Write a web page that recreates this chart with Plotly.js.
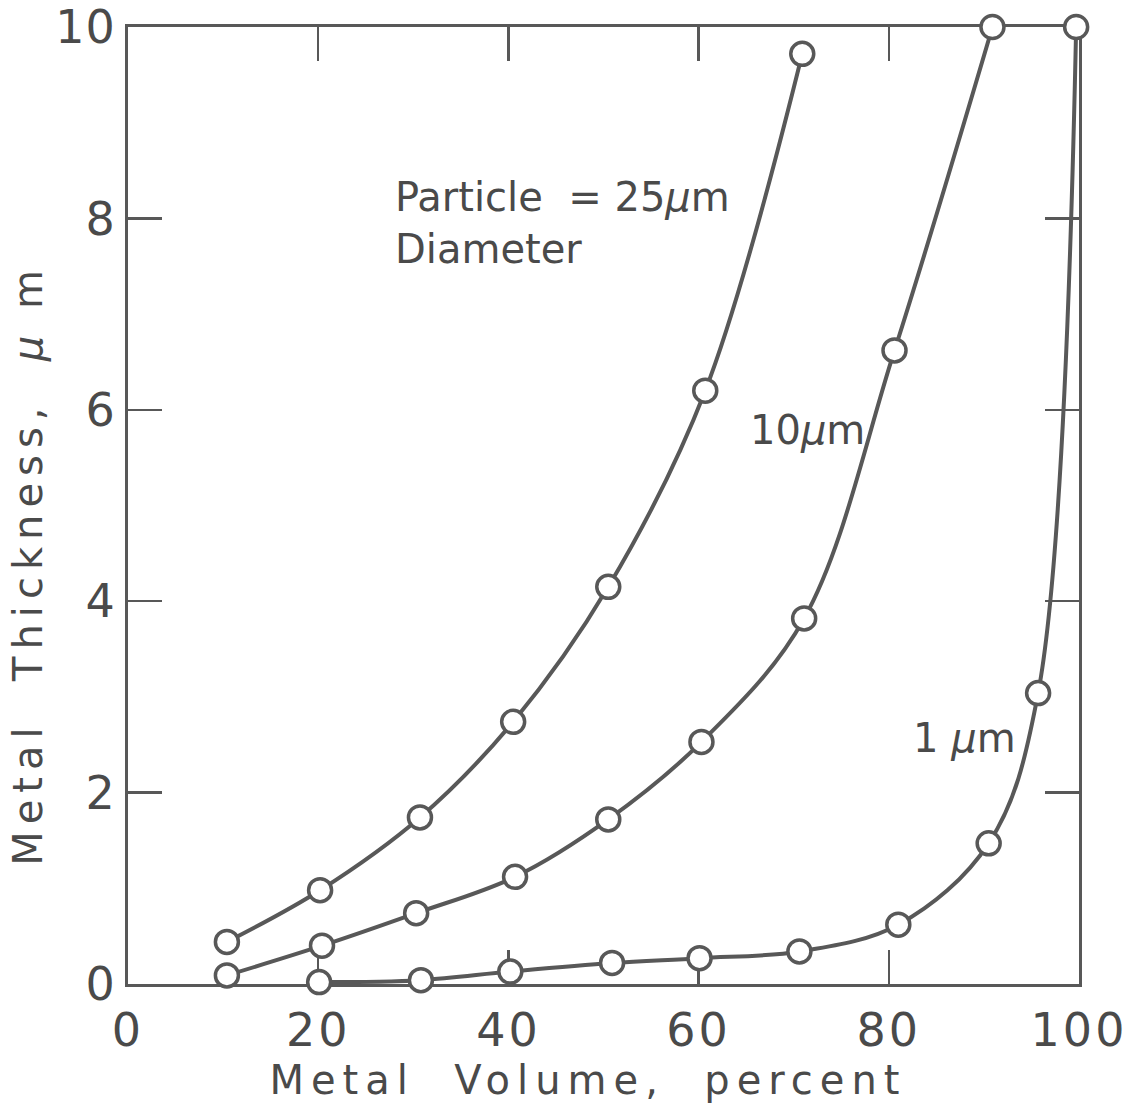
<!DOCTYPE html>
<html>
<head>
<meta charset="utf-8">
<script src="https://cdn.plot.ly/plotly-3.0.1.min.js"></script>
<style>
  html, body { margin: 0; padding: 0; background: #ffffff; }
  #chart { width: 1137px; height: 1108px; }
  .xtick text { letter-spacing: 3px; }
  .ytick text { letter-spacing: 1px; }
  g.annotation[data-index="0"] text { letter-spacing: 7px; }
  g.annotation[data-index="1"] text { letter-spacing: 7px; }
</style>
</head>
<body>
<div id="chart"></div>
<script>
// Metal volume (percent) and metal thickness (µm) for three particle diameters
const volume25 = [10.4, 20.2, 30.7, 40.5, 50.5, 60.7, 70.9];
const thick25  = [0.44, 0.98, 1.74, 2.74, 4.15, 6.2, 9.72];

const volume10 = [10.4, 20.4, 30.3, 40.7, 50.5, 60.3, 71.1, 80.6, 90.9];
const thick10  = [0.09, 0.40, 0.74, 1.12, 1.72, 2.53, 3.82, 6.62, 10.0];

const volume1 = [20.1, 30.8, 40.2, 50.9, 60.1, 70.6, 81.0, 90.5, 95.7, 99.7];
const thick1  = [0.02, 0.04, 0.13, 0.22, 0.27, 0.34, 0.62, 1.47, 3.04, 10.0];

const xTickVals = [0, 20, 40, 60, 80, 100];
const yTickVals = [0, 2, 4, 6, 8, 10];

const xTitle = 'Metal\u00a0 Volume,\u00a0 percent';
const yTitle = 'Metal\u00a0 Thickness,\u00a0 <i>\u03bc</i> m';
const label25 = 'Particle\u00a0 =\u00a025<i>\u03bc</i>m<br>Diameter';
const label10 = '10<i>\u03bc</i>m';
const label1 = '1\u00a0<i>\u03bc</i>m';

const INK = '#585858';
const TEXT = '#4a4a4a';
const FONT = 'DejaVu Sans, sans-serif';

function curve(x, y) {
  return {
    x: x, y: y,
    type: 'scatter',
    mode: 'lines+markers',
    cliponaxis: false,
    line: { color: INK, width: 4, shape: 'spline', smoothing: 1 },
    marker: { symbol: 'circle', size: 23, color: '#ffffff', line: { color: INK, width: 3.5 } },
    hoverinfo: 'skip'
  };
}

const data = [curve(volume1, thick1), curve(volume10, thick10), curve(volume25, thick25)];

const axisCommon = {
  showgrid: false,
  zeroline: false,
  showline: true,
  linecolor: INK,
  linewidth: 3,
  mirror: 'ticks',
  ticks: 'inside',
  ticklen: 34,
  tickwidth: 2.5,
  tickcolor: INK,
  layer: 'below traces',
  tickfont: { family: FONT, size: 46, color: TEXT }
};

const layout = {
  width: 1137,
  height: 1108,
  margin: { l: 128, r: 58, t: 27, b: 124, pad: 0 },
  paper_bgcolor: '#ffffff',
  plot_bgcolor: '#ffffff',
  showlegend: false,
  xaxis: Object.assign({}, axisCommon, {
    range: [0, 100],
    tickvals: xTickVals,
    ticktext: xTickVals.map(String),
    ticklabelstandoff: 4
  }),
  yaxis: Object.assign({}, axisCommon, {
    range: [0, 10],
    tickvals: yTickVals,
    ticktext: yTickVals.map(String),
    ticklabelstandoff: 0
  }),
  annotations: [
    { text: xTitle, xref: 'x', yref: 'paper', x: 48.4, y: 0, yshift: -96,
      xanchor: 'center', yanchor: 'middle', showarrow: false,
      font: { family: FONT, size: 40, color: TEXT } },
    { text: yTitle, xref: 'paper', yref: 'y', x: 0, xshift: -100, y: 4.38,
      xanchor: 'center', yanchor: 'middle', textangle: -90, showarrow: false,
      font: { family: FONT, size: 40, color: TEXT } },
    { text: label25, xref: 'x', yref: 'y', x: 27.9, y: 7.95,
      xanchor: 'left', yanchor: 'middle', align: 'left', showarrow: false,
      font: { family: FONT, size: 40, color: TEXT } },
    { text: label10, xref: 'x', yref: 'y', x: 71.4, y: 5.79,
      xanchor: 'center', yanchor: 'middle', showarrow: false,
      font: { family: FONT, size: 40, color: TEXT } },
    { text: label1, xref: 'x', yref: 'y', x: 88.0, y: 2.57,
      xanchor: 'center', yanchor: 'middle', showarrow: false,
      font: { family: FONT, size: 40, color: TEXT } }
  ]
};

Plotly.newPlot('chart', data, layout, { staticPlot: true, displayModeBar: false });
</script>
</body>
</html>
